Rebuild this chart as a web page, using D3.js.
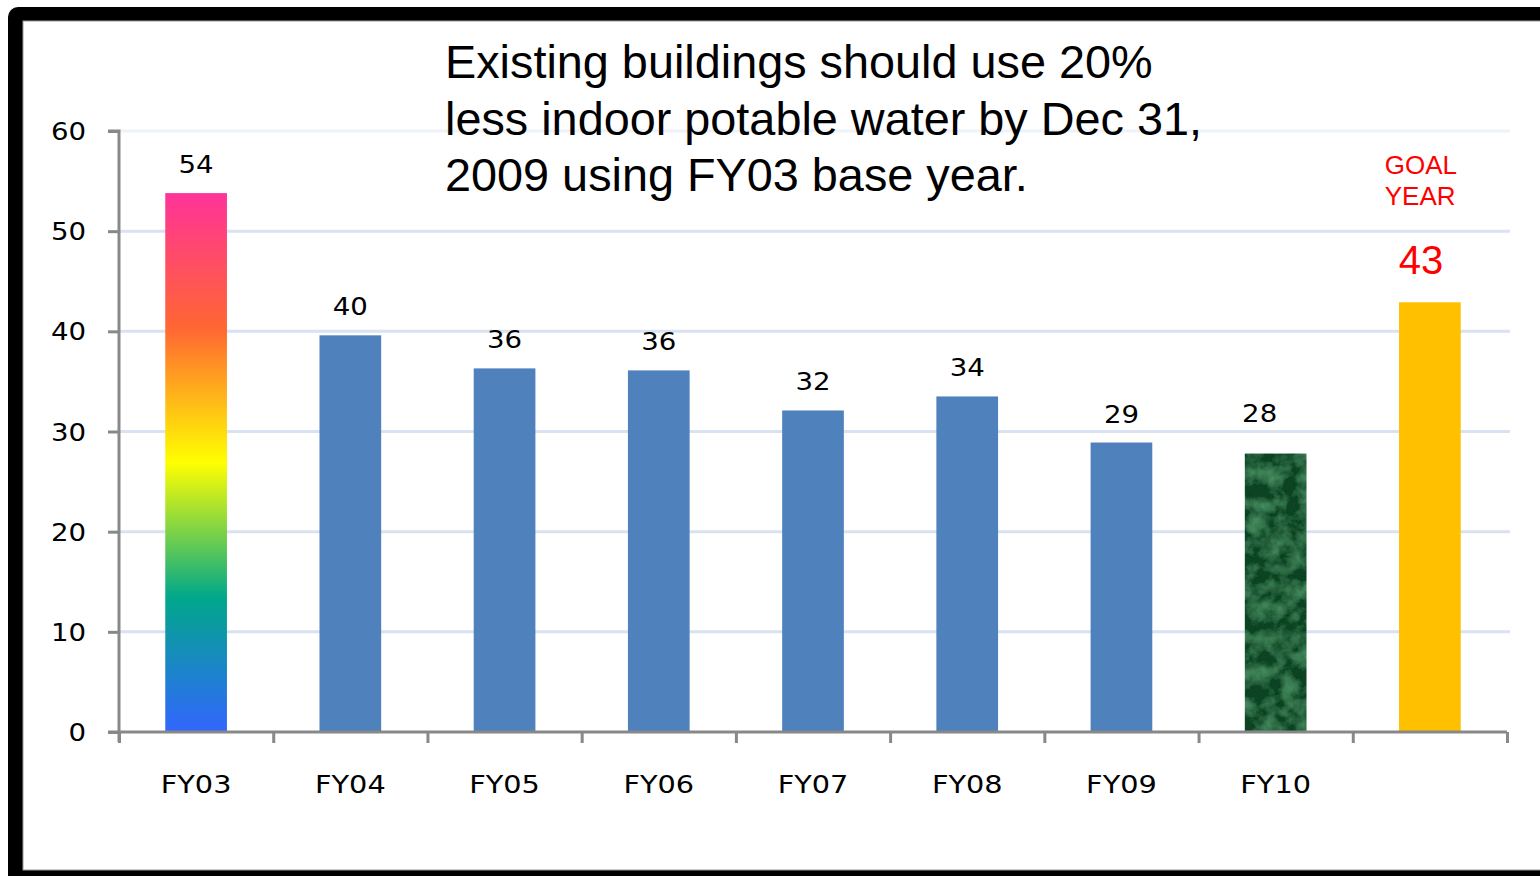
<!DOCTYPE html>
<html>
<head>
<meta charset="utf-8">
<script src="https://cdn.jsdelivr.net/npm/d3@7"></script>
<style>
  html, body { margin: 0; padding: 0; background: #ffffff; }
  svg { display: block; }
</style>
</head>
<body>
<svg id="chart" width="1540" height="876"></svg>
<script>
// Indoor potable water use by fiscal year, with the goal-year target
const categories = ["FY03", "FY04", "FY05", "FY06", "FY07", "FY08", "FY09", "FY10", "GOAL"];
const categoryLabels = ["FY03", "FY04", "FY05", "FY06", "FY07", "FY08", "FY09", "FY10", ""];
const values = [53.8, 39.6, 36.3, 36.1, 32.1, 33.5, 28.9, 27.8, 42.9];
const yTicks = [0, 10, 20, 30, 40, 50, 60];
const titleLines = [
  "Existing buildings should use 20%",
  "less indoor potable water by Dec 31,",
  "2009 using FY03 base year."
];
const goalNote = ["GOAL", "YEAR"];

const svg = d3.select("#chart");
const stretch = 1.15; // wide-set axis and value lettering

// Slide frame: thick black border, rounded at the top-left
svg.append("rect").attr("x", 8).attr("y", 7).attr("width", 1620).attr("height", 900)
  .attr("rx", 10).attr("fill", "#000");
svg.append("rect").attr("x", 23).attr("y", 21).attr("width", 1620).attr("height", 849)
  .attr("fill", "#fff").attr("stroke", "#9a9a9a").attr("stroke-width", 1);

const plot = { left: 119, right: 1507, top: 131, bottom: 732 };

const x = d3.scaleBand().domain(categories).range([plot.left, plot.right]).paddingInner(0).paddingOuter(0);
const xEdges = d3.scaleLinear().domain([0, categories.length]).range([plot.left, plot.right]);
const y = d3.scaleLinear().domain([0, 60]).range([plot.bottom, plot.top]);

const defs = svg.append("defs");

// Rainbow fill for the base year bar
const rainbow = defs.append("linearGradient").attr("id", "rainbow")
  .attr("x1", 0).attr("y1", 0).attr("x2", 0).attr("y2", 1);
[["0%", "#ff3399"], ["25%", "#ff6633"], ["50%", "#ffff00"], ["75%", "#00a88a"], ["100%", "#3366ff"]]
  .forEach(([o, c]) => rainbow.append("stop").attr("offset", o).attr("stop-color", c));

// Green marble texture for the FY10 bar
const marble = defs.append("filter").attr("id", "marble")
  .attr("x", 0).attr("y", 0).attr("width", 1).attr("height", 1);
marble.append("feTurbulence").attr("type", "fractalNoise").attr("baseFrequency", "0.06")
  .attr("numOctaves", 5).attr("seed", 11).attr("result", "noise");
marble.append("feColorMatrix").attr("in", "noise").attr("type", "matrix")
  .attr("values", "0 0 0 0 0  0 0 0 0 0  0 0 0 0 0  1.1 0 0 0 -0.38").attr("result", "mask");
marble.append("feFlood").attr("flood-color", "#5aae78").attr("result", "light");
marble.append("feComposite").attr("in", "light").attr("in2", "mask").attr("operator", "in").attr("result", "veins");
marble.append("feFlood").attr("flood-color", "#0c4220").attr("result", "base");
marble.append("feMerge").call(m => {
  m.append("feMergeNode").attr("in", "base");
  m.append("feMergeNode").attr("in", "veins");
}).attr("result", "merged");
marble.append("feComposite").attr("in", "merged").attr("in2", "SourceGraphic").attr("operator", "in");

// Horizontal gridlines
svg.append("g")
  .selectAll("line").data(yTicks.filter(t => t > 0)).join("line")
  .attr("x1", plot.left).attr("x2", plot.right + 3)
  .attr("y1", d => y(d)).attr("y2", d => y(d))
  .attr("stroke", d => d === 60 ? "#eef2fa" : "#d9e2f1").attr("stroke-width", 3);

// Bars
const barW = x.bandwidth() * 0.4;
const fills = ["url(#rainbow)", "#4f81bd", "#4f81bd", "#4f81bd", "#4f81bd", "#4f81bd", "#4f81bd", "#1a5a2e", "#ffc000"];
svg.append("g").selectAll("rect").data(categories).join("rect")
  .attr("x", d => x(d) + x.bandwidth() / 2 - barW / 2)
  .attr("y", (d, i) => y(values[i]))
  .attr("width", barW)
  .attr("height", (d, i) => y(0) - y(values[i]))
  .attr("fill", (d, i) => fills[i])
  .attr("filter", d => d === "FY10" ? "url(#marble)" : null);

// Y axis
const yAxis = svg.append("g").attr("transform", `translate(${plot.left},0)`)
  .call(d3.axisLeft(y).tickValues(yTicks).tickSize(11).tickPadding(22).tickFormat(d3.format("d")));
yAxis.select(".domain").attr("stroke", "#888").attr("stroke-width", 3)
  .attr("d", `M-11,${y(60)}H0V${y(0) + 10}`);
yAxis.selectAll(".tick line").attr("stroke", "#888").attr("stroke-width", 3);
yAxis.selectAll(".tick text").attr("font-family", "DejaVu Sans").attr("font-size", 24)
  .attr("fill", "#000").attr("dy", "0.36em")
  .attr("x", -33 / stretch).attr("transform", `scale(${stretch},1)`);

// X axis: boundary ticks
const xTickAxis = svg.append("g").attr("transform", `translate(0,${plot.bottom})`)
  .call(d3.axisBottom(xEdges).tickValues(d3.range(0, categories.length + 1)).tickSize(11).tickFormat(""));
xTickAxis.select(".domain").attr("stroke", "#888").attr("stroke-width", 3)
  .attr("d", `M${plot.left - 11},0H${plot.right}`);
xTickAxis.selectAll(".tick line").attr("stroke", "#888").attr("stroke-width", 3);

// X axis: category labels
const xLabelAxis = svg.append("g").attr("transform", `translate(0,${plot.bottom})`)
  .call(d3.axisBottom(x).tickSize(0).tickPadding(43).tickFormat((d, i) => categoryLabels[i]));
xLabelAxis.select(".domain").remove();
xLabelAxis.selectAll(".tick text").attr("font-family", "DejaVu Sans").attr("font-size", 25)
  .attr("fill", "#000").attr("transform", `scale(${stretch},1)`);

// Value labels
const fmt = d3.format(".0f");
const labelShift = d => d === "GOAL" ? [-9, -28] : d === "FY10" ? [-16, -32] : [0, -20];
svg.append("g").selectAll("g").data(categories).join("g")
  .attr("transform", (d, i) => {
    const [dx, dy] = labelShift(d);
    return `translate(${x(d) + x.bandwidth() / 2 + dx},${y(values[i]) + dy})`;
  })
  .append("text")
  .attr("text-anchor", "middle")
  .attr("transform", d => d === "GOAL" ? null : `scale(${stretch},1)`)
  .attr("font-family", d => d === "GOAL" ? "Liberation Sans" : "DejaVu Sans")
  .attr("font-size", d => d === "GOAL" ? 40 : 24)
  .attr("fill", d => d === "GOAL" ? "#ff0000" : "#000")
  .text((d, i) => fmt(values[i]));

// Goal year note
svg.append("text")
  .attr("x", x("GOAL") + 32).attr("y", 174)
  .attr("font-family", "Liberation Sans").attr("font-size", 26).attr("fill", "#ff0000")
  .selectAll("tspan").data(goalNote).join("tspan")
  .attr("x", x("GOAL") + 32).attr("dy", (d, i) => i === 0 ? 0 : 31).text(d => d);

// Title
svg.append("text")
  .attr("x", 445).attr("y", 78)
  .attr("font-family", "Liberation Sans").attr("font-size", 46.8).attr("fill", "#000")
  .selectAll("tspan").data(titleLines).join("tspan")
  .attr("x", 445).attr("dy", (d, i) => i === 0 ? 0 : 56.5).text(d => d);
</script>
</body>
</html>
